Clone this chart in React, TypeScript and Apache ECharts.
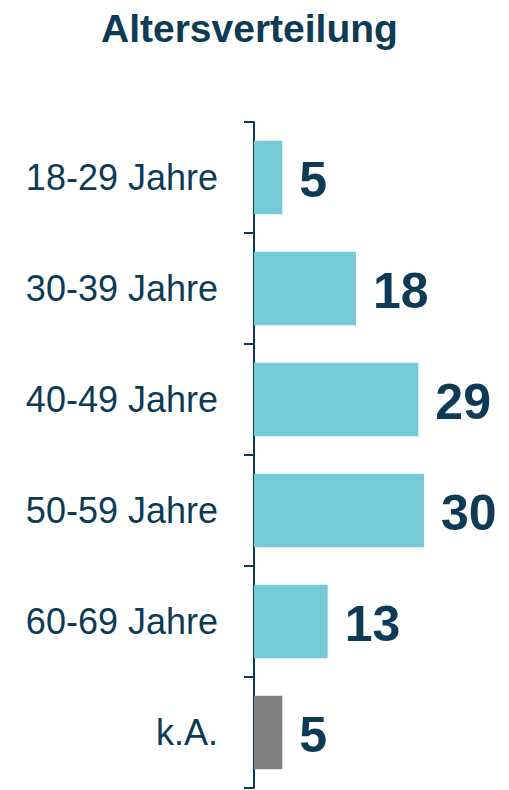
import React, { useEffect, useRef } from "react";
import * as echarts from "echarts";

const title = "Altersverteilung";
const categories = ["18-29 Jahre", "30-39 Jahre", "40-49 Jahre", "50-59 Jahre", "60-69 Jahre", "k.A."];
const values = [5, 18, 29, 30, 13, 5];
const barColors = ["#76c9d6", "#76c9d6", "#76c9d6", "#76c9d6", "#76c9d6", "#808080"];

const NAVY = "#0d3b55";

export default function App() {
  const ref = useRef<HTMLDivElement>(null);
  useEffect(() => {
    if (!ref.current) return;
    const chart = echarts.init(ref.current, undefined, { renderer: "svg" });
    chart.setOption({
      animation: false,
      title: {
        text: title,
        left: 96,
        top: 4,
        textStyle: {
          fontFamily: "Liberation Sans",
          fontWeight: "bold",
          fontSize: 39,
          color: NAVY,
        },
      },
      grid: { left: 254, right: 85, top: 122, bottom: 2, containLabel: false },
      xAxis: {
        type: "value",
        min: 0,
        max: 30,
        show: false,
      },
      yAxis: {
        type: "category",
        inverse: true,
        data: categories,
        axisLine: { show: true, lineStyle: { color: NAVY, width: 2 } },
        axisTick: { show: true, length: 10, lineStyle: { color: NAVY, width: 2 } },
        axisLabel: {
          margin: 36,
          fontFamily: "Liberation Sans",
          fontSize: 36,
          color: NAVY,
        },
        splitLine: { show: false },
      },
      series: [
        {
          type: "bar",
          barWidth: "66%",
          data: values.map((v, i) => ({ value: v, itemStyle: { color: barColors[i] } })),
          label: {
            show: true,
            position: "right",
            distance: 17,
            offset: [0, 2],
            fontFamily: "Liberation Sans",
            fontWeight: "bold",
            fontSize: 50,
            color: NAVY,
          },
        },
      ],
    });
    return () => chart.dispose();
  }, []);
  return (
    <div
      ref={ref}
      style={{ position: "fixed", left: 0, top: 0, width: 509, height: 790, background: "#fff" }}
    />
  );
}
